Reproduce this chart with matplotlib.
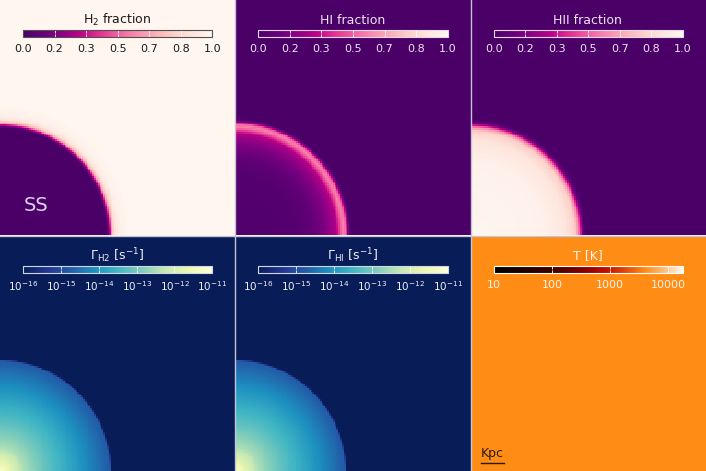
import numpy as np
import matplotlib
matplotlib.use("Agg")
import matplotlib.pyplot as plt
from matplotlib.colors import LinearSegmentedColormap, Normalize, LogNorm
from matplotlib.cm import ScalarMappable
from matplotlib.lines import Line2D

# ---------------- data (radial profiles) ----------------
# radius in units of the panel width, measured from the bottom-left corner
r_h2 = [0.0, 0.455, 0.465, 0.475, 0.49, 0.51, 0.55, 1.5]
h2_frac = [0.0, 0.0, 0.3, 0.7, 0.9, 0.97, 1.0, 1.0]

r_hi = [0.0, 0.25, 0.32, 0.38, 0.43, 0.45, 0.46, 0.47, 0.48, 0.49, 1.5]
hi_frac = [0.02, 0.04, 0.08, 0.16, 0.28, 0.5, 0.58, 0.5, 0.2, 0.0, 0.0]

r_hii = [0.0, 0.3, 0.40, 0.44, 0.455, 0.465, 0.475, 0.49, 1.5]
hii_frac = [1.0, 0.97, 0.9, 0.8, 0.6, 0.35, 0.1, 0.0, 0.0]

r_gam = [0.0, 0.05, 0.1, 0.2, 0.3, 0.4, 0.465, 0.485, 1.5]
log_gamma_h2 = [-11.2, -11.9, -12.5, -13.2, -13.8, -14.4, -14.8, -18.0, -18.0]
log_gamma_hi = [-11.2, -11.9, -12.5, -13.2, -13.8, -14.4, -14.8, -18.0, -18.0]

temperature = 4000.0

frac_ticks = [0, 1/6, 2/6, 3/6, 4/6, 5/6, 1]
frac_labels = ["0.0", "0.2", "0.3", "0.5", "0.7", "0.8", "1.0"]
gam_ticks = [1e-16, 1e-15, 1e-14, 1e-13, 1e-12, 1e-11]
gam_labels = [r"10$^{-16}$", r"10$^{-15}$", r"10$^{-14}$", r"10$^{-13}$", r"10$^{-12}$", r"10$^{-11}$"]
t_ticks = [10, 100, 1000, 10000]
t_labels = ["10", "100", "1000", "10000"]

titles = [r"H$_2$ fraction", "HI fraction", "HII fraction",
          r"$\Gamma_{\rm H2}$ [s$^{-1}$]", r"$\Gamma_{\rm HI}$ [s$^{-1}$]", "T [K]"]

# ---------------- colormaps ----------------
frac_cmap = LinearSegmentedColormap.from_list("frac", [
    (0.0, "#4b0068"), (0.1, "#66007a"), (0.2, "#8c0086"), (0.3, "#bb0089"),
    (0.4, "#e2308f"), (0.5, "#f25fa0"), (0.6, "#f88cb0"), (0.7, "#fbb0b9"),
    (0.8, "#fdd0c9"), (0.9, "#fee6de"), (1.0, "#fff6f0")])
gam_cmap = plt.get_cmap("YlGnBu_r")
t_cmap = LinearSegmentedColormap.from_list("temp", [
    (0.0, "#000000"), (0.3, "#3a0000"), (0.5, "#900000"), (0.6, "#c01000"),
    (0.7, "#e44a08"), (0.8, "#ff8c14"), (0.9, "#ffbd78"), (1.0, "#fff8f0")])

frac_norm = Normalize(0, 1)
gam_norm = LogNorm(1e-16, 1e-11)
t_norm = LogNorm(10, 18000)

# ---------------- grid ----------------
N = 128
c = (np.arange(N) + 0.5) / N
X, Y = np.meshgrid(c, c)
R = np.sqrt(X**2 + Y**2)

fields = [
    (np.interp(R, r_h2, h2_frac), frac_cmap, frac_norm),
    (np.interp(R, r_hi, hi_frac), frac_cmap, frac_norm),
    (np.interp(R, r_hii, hii_frac), frac_cmap, frac_norm),
    (10 ** np.interp(R, r_gam, log_gamma_h2), gam_cmap, gam_norm),
    (10 ** np.interp(R, r_gam, log_gamma_hi), gam_cmap, gam_norm),
    (np.full_like(R, temperature), t_cmap, t_norm),
]
text_colors = ["#1a1a1a", "#ece4f2", "#ece4f2", "#f0f0f8", "#f0f0f8", "#fff4ea"]
frame_colors = ["#505050", "#e0d8ec", "#e0d8ec", "#d0d8e8", "#d0d8e8", "#ffffff"]
ticksets = [(frac_ticks, frac_labels)] * 3 + [(gam_ticks, gam_labels)] * 2 + [(t_ticks, t_labels)]
label_sizes = [8, 8, 8, 7.5, 7.5, 8]

fig = plt.figure(figsize=(7.06, 4.71), dpi=100)
fig.patch.set_facecolor("white")

for k, (data, cmap, norm) in enumerate(fields):
    row, col = divmod(k, 3)
    ax = fig.add_axes([col / 3, 0.5 - row * 0.5, 1 / 3, 0.5])
    ax.imshow(data, origin="lower", extent=[0, 1, 0, 1], cmap=cmap, norm=norm,
              interpolation="nearest", aspect="auto")
    ax.set_xlim(0, 1)
    ax.set_ylim(0, 1)
    ax.set_axis_off()

    cax = ax.inset_axes([23 / 235, 1 - 37 / 235, 189 / 235, 7 / 235])
    cb = fig.colorbar(ScalarMappable(norm=norm, cmap=cmap), cax=cax, orientation="horizontal")
    ticks, labels = ticksets[k]
    cb.set_ticks(ticks)
    cb.set_ticklabels(labels)
    cb.minorticks_off()
    tc = text_colors[k]
    cax.tick_params(axis="x", direction="in", length=2, width=0.6, color="white",
                    labelcolor=tc, labelsize=label_sizes[k], pad=5, top=True, bottom=True)
    cb.outline.set_edgecolor(frame_colors[k])
    cb.outline.set_linewidth(0.8)
    ax.text(117 / 235, 1 - 20 / 235, titles[k], transform=ax.transAxes, ha="center",
            va="center", fontsize=9, color=tc)

    if k == 0:
        ax.text(24 / 235, 30 / 235, "SS", transform=ax.transAxes, ha="left",
                va="center", fontsize=14, color="#dcd0ec")
    if k == 5:
        ax.text(10 / 235, 14 / 235, "Kpc", transform=ax.transAxes, ha="left",
                va="baseline", fontsize=9, color="#2a1a08")
        ax.add_line(Line2D([10 / 235, 33 / 235], [8 / 235, 8 / 235], transform=ax.transAxes,
                           color="#2a1a08", lw=1))

# separators
sep = "#c4c4d6"
for xf in (1 / 3, 2 / 3):
    fig.add_artist(Line2D([xf, xf], [0, 1], transform=fig.transFigure, color=sep, lw=1))
fig.add_artist(Line2D([0, 1], [0.5, 0.5], transform=fig.transFigure, color=sep, lw=1))

fig.savefig("out.png", dpi=100)
